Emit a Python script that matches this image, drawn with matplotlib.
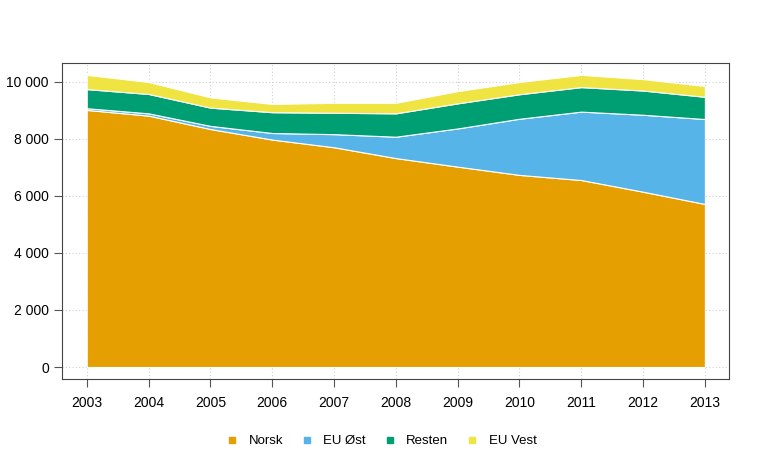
import matplotlib
matplotlib.use("Agg")
import matplotlib.pyplot as plt
from matplotlib.ticker import FuncFormatter
from matplotlib.lines import Line2D

plt.rcParams['font.family'] = ['Liberation Sans', 'DejaVu Sans']

years = [2003, 2004, 2005, 2006, 2007, 2008, 2009, 2010, 2011, 2012, 2013]
norsk = [9020, 8820, 8350, 7980, 7710, 7330, 7030, 6740, 6560, 6150, 5720]
eu_ost = [60, 80, 110, 230, 460, 750, 1340, 1970, 2400, 2700, 2980]
resten = [670, 680, 640, 730, 750, 820, 880, 860, 860, 850, 780]
eu_vest = [500, 420, 360, 290, 350, 370, 430, 430, 430, 400, 380]
labels = ["Norsk", "EU Øst", "Resten", "EU Vest"]
colors = ["#E69F00", "#56B4E9", "#009E73", "#F0E442"]

fig = plt.figure(figsize=(7.62, 4.57), dpi=100)
ax = fig.add_axes([62/762, 1-379/457, (729-62)/762, (379-62.7)/457])

ax.stackplot(years, norsk, eu_ost, resten, eu_vest, colors=colors,
             edgecolor="white", linewidth=0.8, zorder=2)

ax.set_xlim(2002.6, 2013.39)
ax.set_ylim(-421, 10677)
ax.set_xticks(years)
ax.set_yticks(range(0, 10001, 2000))
ax.yaxis.set_major_formatter(FuncFormatter(lambda v, p: f"{int(v):,}".replace(",", " ")))
ax.grid(True, color="#d0d0d0", linestyle=(0, (1, 2)), linewidth=0.8, zorder=0)
ax.set_axisbelow(True)
for s in ax.spines.values():
    s.set_color("#444444")
    s.set_linewidth(0.8)
ax.tick_params(axis="both", colors="#555555", labelcolor="black", labelsize=10,
               length=6, width=0.8, direction="out")
ax.tick_params(axis="x", pad=6)

handles = [Line2D([], [], marker="s", linestyle="none", markersize=5,
                  markerfacecolor=c, markeredgecolor=c) for c in colors]
fig.legend(handles, labels, loc="center", bbox_to_anchor=(0.5, 1-441/457),
           ncol=4, frameon=False, fontsize=9.5, handletextpad=0.75,
           columnspacing=1.3, handlelength=1.0)

fig.savefig("out.png", dpi=100)
